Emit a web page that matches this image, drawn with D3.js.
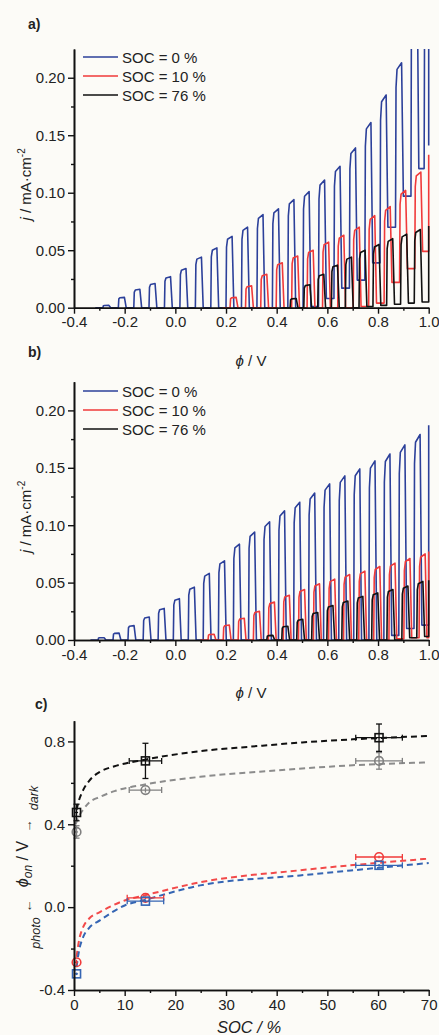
<!DOCTYPE html>
<html>
<head>
<meta charset="utf-8">
<script src="https://cdn.jsdelivr.net/npm/d3@7"></script>
<style>
body { margin: 0; background: #fcfbf7; }
svg text { font-family: "Liberation Sans", Arial, sans-serif; fill: #222; }
</style>
</head>
<body>
<div id="root"></div>
<script>
// ---------- data ----------
// panel a : chopped-light transients, onset potential (V), photo peak (mA cm-2), dark current after the pulse
var aBlueOn   = [-0.286,-0.225,-0.164,-0.104,-0.043,0.018,0.079,0.140,0.200,0.261,0.322,0.383,0.444,0.504,0.565,0.626,0.687,0.748,0.808,0.869,0.930,0.982];
var aBluePeak = [0.002,0.009,0.016,0.021,0.027,0.034,0.044,0.052,0.062,0.070,0.081,0.086,0.094,0.101,0.111,0.123,0.139,0.161,0.185,0.213,0.300,0.300];
var aBlueDark = [0,0,0,0,0,0,0,0,0,0,0,0,0,0.001,0.008,0.017,0.024,0.039,0.070,0.097,0.121,0.141];
var aBlueEnd = 0.141;

var aRedOn   = [0.216,0.277,0.337,0.398,0.459,0.520,0.581,0.641,0.702,0.763,0.824,0.885,0.945];
var aRedPeak = [0.009,0.019,0.029,0.039,0.045,0.050,0.057,0.063,0.070,0.080,0.088,0.102,0.118];
var aRedDark = [0,0,0,0,0,0,0,0,0.001,0.004,0.022,0.034,0.049];
var aRedEnd = 0.133;

var aBlackOn   = [0.453,0.507,0.562,0.616,0.671,0.725,0.780,0.834,0.889,0.943];
var aBlackPeak = [0.008,0.020,0.029,0.037,0.044,0.050,0.055,0.060,0.064,0.068];
var aBlackDark = [0,0,0,0,0,0.001,0.002,0.003,0.004,0.005];
var aBlackEnd = 0.071;

// panel b
var bBlueOn   = [-0.305,-0.246,-0.187,-0.127,-0.068,-0.008,0.051,0.110,0.170,0.229,0.289,0.348,0.407,0.467,0.526,0.585,0.645,0.704,0.764,0.823,0.882,0.942];
var bBluePeak = [0.002,0.006,0.0125,0.020,0.0275,0.036,0.046,0.058,0.069,0.0835,0.094,0.103,0.1125,0.120,0.128,0.136,0.143,0.149,0.156,0.162,0.170,0.179];
var bBlueDark = [0,0,0,0,0,0,0,0,0,0,0,0,0,0,0,0,0,0,0,0.004,0.010,0.013];
var bBlueEnd = 0.187;

var bRedOn   = [0.129,0.189,0.248,0.308,0.367,0.426,0.486,0.545,0.605,0.664,0.724,0.783,0.843,0.902,0.962];
var bRedPeak = [0.005,0.013,0.019,0.025,0.033,0.039,0.044,0.049,0.053,0.057,0.060,0.064,0.067,0.071,0.075];
var bRedDark = [0,0,0,0,0,0,0,0,0,0,0,0,0.001,0.002,0.002];
var bRedEnd = 0.077;

var bBlackOn   = [0.361,0.420,0.479,0.538,0.598,0.657,0.716,0.775,0.835,0.894,0.953];
var bBlackPeak = [0.004,0.012,0.018,0.024,0.030,0.034,0.038,0.041,0.044,0.047,0.051];
var bBlackDark = [0,0,0,0,0,0,0,0,0,0.002,0.003];
var bBlackEnd = 0.052;

var socLabels = ["SOC = 0 %", "SOC = 10 %", "SOC = 76 %"];

// panel c : onset potentials vs SOC
var socPts = [0.5, 14.1, 60.2];
var darkBlack = [0.457, 0.706, 0.818];
var darkBlackErr = [0.04, 0.085, 0.066];
var darkBlackSocErr = [0.3, 3.2, 4.6];
var darkGray = [0.363, 0.565, 0.706];
var darkGrayErr = [0.03, 0.012, 0.04];
var darkGraySocErr = [0.3, 3.2, 4.6];
var photoRed = [-0.266, 0.045, 0.242];
var photoRedErr = [0.012, 0.006, 0.006];
var photoBlue = [-0.322, 0.029, 0.202];
var photoBlueErr = [0.006, 0.006, 0.006];
var photoSocErr = [0.3, 3.6, 4.6];

// dashed fit curves, [SOC, phi]
var fitBlack = [[0.5,0.47],[0.8,0.50],[1.8,0.565],[3,0.61],[5.1,0.653],[8,0.68],[14,0.712],[24.9,0.753],[35,0.775],[45,0.795],[55,0.81],[70,0.826]];
var fitGray  = [[0.3,0.40],[1.0,0.44],[1.8,0.47],[3,0.505],[5.1,0.532],[8,0.56],[14,0.592],[24.9,0.629],[40,0.66],[55,0.685],[70,0.699]];
var fitRed   = [[0.5,-0.24],[1.0,-0.16],[1.8,-0.097],[3,-0.055],[5.1,-0.024],[10,0.032],[14,0.057],[24.9,0.12],[44.6,0.178],[70,0.234]];
var fitBlue  = [[0.5,-0.29],[1.0,-0.21],[1.8,-0.145],[3,-0.10],[5.1,-0.064],[10,0.008],[14,0.035],[24.9,0.105],[44.6,0.153],[70,0.213]];

// ---------- drawing ----------
var width = 439;
var height = 1035;
var blue = "#2c409a", red = "#f03a3a", black = "#111111";

var svg = d3.select("#root")
.append("svg")
.attr("width", width)
.attr("height", height);

// builds the chopped trace: rise, flat top, fall to dark current
function buildTrace(on, peak, dark, end) {
	var pts = [[on[0] - 0.03, 0]];
	var prev = 0;
	on.forEach(function(o, i) {
		var p = peak[i];
		pts.push([o, prev]);
		pts.push([o + 0.002, prev + 0.85 * (p - prev)]);
		pts.push([o + 0.006, prev + 0.96 * (p - prev)]);
		pts.push([o + 0.024, p]);
		pts.push([o + 0.031, dark[i]]);
		prev = dark[i];
	});
	pts = pts.filter(function(d) { return d[0] < 1.0; });
	pts.push([1.0, pts[pts.length - 1][1]]);
	pts.push([1.0, end]);
	return pts;
}

function drawTransients(p, series) {
	var x = d3.scaleLinear().domain([-0.4, 1.0]).range([74, 428.7]);
	var y = d3.scaleLinear().domain([0, 0.225]).range([p.bottom, p.top]);

	svg.append("clipPath").attr("id", p.id)
	.append("rect")
	.attr("x", x(-0.4)).attr("y", y(0.225))
	.attr("width", x(1.0) - x(-0.4) + 2)
	.attr("height", y(0) - y(0.225) + 2);

	var line = d3.line().x(function(d) { return x(d[0]); }).y(function(d) { return y(d[1]); });

	var g = svg.append("g").attr("clip-path", "url(#" + p.id + ")");
	series.forEach(function(s) {
		g.append("path")
		.datum(buildTrace(s.on, s.peak, s.dark, s.end))
		.attr("fill", "none")
		.attr("stroke", s.color)
		.attr("stroke-width", 1.6)
		.attr("stroke-linejoin", "round")
		.attr("d", line);
	});

	// minor ticks
	svg.append("g").attr("transform", "translate(0," + y(0) + ")")
	.call(d3.axisBottom(x).tickValues([-0.3,-0.1,0.1,0.3,0.5,0.7,0.9]).tickSize(3).tickSizeOuter(0).tickFormat(""));
	svg.append("g").attr("transform", "translate(74,0)")
	.call(d3.axisLeft(y).tickValues([0.025,0.075,0.125,0.175]).tickSize(3).tickSizeOuter(0).tickFormat(""));

	svg.append("g").attr("class", "ax").attr("transform", "translate(0," + y(0) + ")")
	.call(d3.axisBottom(x).tickValues([-0.4,-0.2,0,0.2,0.4,0.6,0.8,1.0]).tickSize(6).tickPadding(3).tickSizeOuter(0)
		.tickFormat(function(d) { return d.toFixed(1); }));
	svg.append("g").attr("class", "ax").attr("transform", "translate(74,0)")
	.call(d3.axisLeft(y).tickValues([0,0.05,0.10,0.15,0.20]).tickSize(6).tickPadding(3).tickSizeOuter(0)
		.tickFormat(function(d) { return d.toFixed(2); }));

	// legend
	series.forEach(function(s, i) {
		svg.append("line")
		.attr("x1", 83).attr("x2", 118)
		.attr("y1", p.legendY[i]).attr("y2", p.legendY[i])
		.attr("stroke", s.color).attr("stroke-width", 1.6);
		svg.append("text")
		.attr("x", 122).attr("y", p.legendY[i] + 5.5)
		.style("font-size", "15px")
		.text(socLabels[i]);
	});

	// panel letter
	svg.append("text").attr("x", 28).attr("y", p.letterY)
	.style("font-size", "14px").style("font-weight", "bold").text(p.letter);

	// x title
	var xt = svg.append("text").attr("x", 251).attr("y", p.bottom + 58)
	.attr("text-anchor", "middle").style("font-size", "15px");
	xt.append("tspan").style("font-style", "italic").text("\u03d5");
	xt.append("tspan").text(" / V");

	// y title
	var yt = svg.append("text")
	.attr("transform", "translate(31," + ((p.top + p.bottom) / 2 + 6) + ") rotate(-90)")
	.attr("text-anchor", "middle").style("font-size", "15px");
	yt.append("tspan").style("font-style", "italic").text("j");
	yt.append("tspan").text(" / mA\u00b7cm");
	yt.append("tspan").attr("dy", -6).style("font-size", "10px").text("-2");
}

drawTransients({id: "clipA", top: 49, bottom: 307.7, legendY: [57, 76, 95], letter: "a)", letterY: 29}, [
	{on: aBlueOn, peak: aBluePeak, dark: aBlueDark, end: aBlueEnd, color: blue},
	{on: aRedOn, peak: aRedPeak, dark: aRedDark, end: aRedEnd, color: red},
	{on: aBlackOn, peak: aBlackPeak, dark: aBlackDark, end: aBlackEnd, color: black}
]);

drawTransients({id: "clipB", top: 381.7, bottom: 640, legendY: [391, 410, 429], letter: "b)", letterY: 357}, [
	{on: bBlueOn, peak: bBluePeak, dark: bBlueDark, end: bBlueEnd, color: blue},
	{on: bRedOn, peak: bRedPeak, dark: bRedDark, end: bRedEnd, color: red},
	{on: bBlackOn, peak: bBlackPeak, dark: bBlackDark, end: bBlackEnd, color: black}
]);

// ---------- panel c ----------
var xc = d3.scaleLinear().domain([0, 70]).range([74, 428.7]);
var yc = d3.scaleLinear().domain([-0.4, 0.9]).range([990, 720.7]);

var fitLine = d3.line().curve(d3.curveMonotoneX)
.x(function(d) { return xc(d[0]); })
.y(function(d) { return yc(d[1]); });

[[fitGray, "#8c8c8c"], [fitBlack, black], [fitRed, "#f24a4a"], [fitBlue, "#3565b3"]].forEach(function(f) {
	svg.append("path").datum(f[0])
	.attr("fill", "none").attr("stroke", f[1])
	.attr("stroke-width", 2).attr("stroke-dasharray", "6,4")
	.attr("d", fitLine);
});

function drawPoints(vals, yErr, sErr, color, shape) {
	var g = svg.append("g").attr("stroke", color).attr("fill", "none").attr("stroke-width", 1.3);
	socPts.forEach(function(s, i) {
		var cx = xc(s), cy = yc(vals[i]);
		var x0 = xc(s - sErr[i]), x1 = xc(s + sErr[i]);
		var y0 = yc(vals[i] - yErr[i]), y1 = yc(vals[i] + yErr[i]);
		g.append("line").attr("x1", x0).attr("x2", x1).attr("y1", cy).attr("y2", cy);
		g.append("line").attr("x1", cx).attr("x2", cx).attr("y1", y0).attr("y2", y1);
		if (sErr[i] > 1) {
			g.append("line").attr("x1", x0).attr("x2", x0).attr("y1", cy - 3).attr("y2", cy + 3);
			g.append("line").attr("x1", x1).attr("x2", x1).attr("y1", cy - 3).attr("y2", cy + 3);
		}
		if (yErr[i] > 0.015) {
			g.append("line").attr("x1", cx - 3).attr("x2", cx + 3).attr("y1", y0).attr("y2", y0);
			g.append("line").attr("x1", cx - 3).attr("x2", cx + 3).attr("y1", y1).attr("y2", y1);
		}
		if (shape == "square") {
			g.append("rect").attr("x", cx - 4).attr("y", cy - 4).attr("width", 8).attr("height", 8)
			.attr("stroke-width", 1.6);
		} else {
			g.append("circle").attr("cx", cx).attr("cy", cy).attr("r", 4.3).attr("stroke-width", 1.6);
		}
	});
}

drawPoints(darkGray, darkGrayErr, darkGraySocErr, "#808080", "circle");
drawPoints(darkBlack, darkBlackErr, darkBlackSocErr, black, "square");
drawPoints(photoRed, photoRedErr, photoSocErr, "#f03a3a", "circle");
drawPoints(photoBlue, photoBlueErr, photoSocErr, "#3565b3", "square");

svg.append("g").attr("transform", "translate(0,990)")
.call(d3.axisBottom(xc).tickValues([5,15,25,35,45,55,65]).tickSize(3).tickSizeOuter(0).tickFormat(""));
svg.append("g").attr("transform", "translate(74,0)")
.call(d3.axisLeft(yc).tickValues([-0.2,0.2,0.6]).tickSize(3).tickSizeOuter(0).tickFormat(""));
svg.append("g").attr("class", "ax").attr("transform", "translate(0,990)")
.call(d3.axisBottom(xc).tickValues([0,10,20,30,40,50,60,70]).tickSize(6).tickPadding(3).tickSizeOuter(0));
svg.append("g").attr("class", "ax").attr("transform", "translate(74,0)")
.call(d3.axisLeft(yc).tickValues([-0.4,0,0.4,0.8]).tickSize(6).tickPadding(3).tickSizeOuter(0)
	.tickFormat(function(d) { return d.toFixed(1); }));

svg.append("text").attr("x", 35).attr("y", 709)
.style("font-size", "14px").style("font-weight", "bold").text("c)");

var st = svg.append("text").attr("x", 249).attr("y", 1033)
.attr("text-anchor", "middle").style("font-size", "16.5px").style("font-style", "italic");
st.text("SOC / %");

// y title of c, pieces along the axis
function rotText(x, y, size, italic, txt) {
	return svg.append("text")
	.attr("transform", "translate(" + x + "," + y + ") rotate(-90)")
	.attr("text-anchor", "middle")
	.style("font-size", size + "px")
	.style("font-style", italic ? "italic" : "normal")
	.text(txt);
}
rotText(40, 933, 12.5, true, "photo");
rotText(31.5, 906, 13, false, "\u2190");
rotText(31.5, 826, 13, false, "\u2192");
rotText(38, 798, 12.5, true, "dark");
var pt = svg.append("text")
.attr("transform", "translate(28,864) rotate(-90)")
.attr("text-anchor", "middle").style("font-size", "16px");
pt.append("tspan").style("font-style", "italic").text("\u03d5");
pt.append("tspan").attr("dy", 4).style("font-size", "12px").style("font-style", "italic").text("on");
pt.append("tspan").attr("dy", -4).text(" / V");

// axis styling
svg.selectAll(".domain").attr("stroke", "#111").attr("stroke-width", 1.6);
svg.selectAll(".tick line").attr("stroke", "#111").attr("stroke-width", 1.4);
svg.selectAll(".ax .tick text").style("font-size", "15px").attr("fill", "#222")
.style("font-family", "'Liberation Sans', Arial, sans-serif");
</script>
</body>
</html>
